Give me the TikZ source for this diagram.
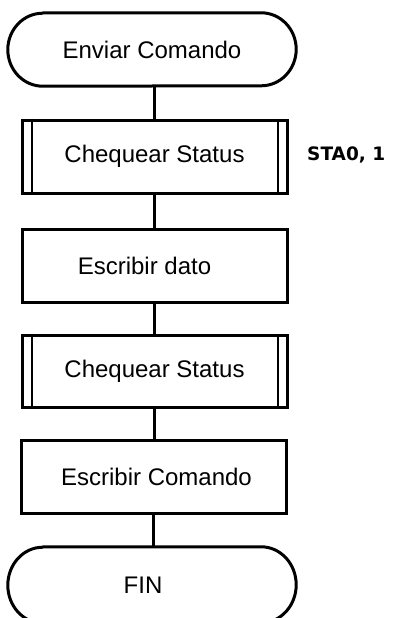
\documentclass[tikz,border=0pt]{standalone}
\usepackage{fontspec}
\setmainfont{Liberation Sans}
\newfontfamily\labelfont{DejaVu Sans}
\begin{document}
\begin{tikzpicture}[x=1pt,y=1pt,
  every node/.style={inner sep=0pt, font=\fontsize{24}{28}\selectfont},
  procbox/.style={draw, line width=3pt, minimum width=265pt, minimum height=73pt},
  termbox/.style={minimum width=288pt, minimum height=73pt},
  termline/.style={line width=3pt, line join=round},
  inner/.style={line width=2pt},
  conn/.style={line width=2.8pt}]
\useasboundingbox[fill=white] (0,0) rectangle (394,-618);

\node[termbox] (t1) at (152,-49.5) {Enviar Comando};
\node[procbox] (s1) at (154.5,-156.5) {Chequear Status};
\node[procbox] (b2) at (154.5,-265.5) {\hspace*{-20pt}Escribir dato};
\node[procbox, minimum height=72pt] (s3) at (154.5,-371) {Chequear Status};
\node[procbox] (b4) at (153.5,-476.5) {\hspace*{6pt}Escribir Comando};
\node[termbox, minimum height=76pt] (t2) at (152,-585) {\raisebox{-4pt}{\hspace*{-18pt}FIN}};
\node[anchor=west, font=\labelfont\bfseries\fontsize{18.5}{20}\selectfont] (lab) at (307,-155) {STA0, 1};

% terminals
\draw[termline] ([xshift=35pt]t1.north west) -- ([xshift=-35pt]t1.north east)
  arc[start angle=90, end angle=-90, x radius=35pt, y radius=36.5pt]
  -- ([xshift=35pt]t1.south west)
  arc[start angle=270, end angle=90, x radius=35pt, y radius=36.5pt] -- cycle;
\draw[termline] ([xshift=35pt]t2.north west) -- ([xshift=-35pt]t2.north east)
  arc[start angle=90, end angle=-90, x radius=35pt, y radius=38pt]
  -- ([xshift=35pt]t2.south west)
  arc[start angle=270, end angle=90, x radius=35pt, y radius=38pt] -- cycle;

% subprocess inner lines
\foreach \n in {s1,s3}{
  \draw[inner] ([xshift=11pt]\n.north west) -- ([xshift=11pt]\n.south west);
  \draw[inner] ([xshift=-11pt]\n.north east) -- ([xshift=-11pt]\n.south east);
}

% connectors
\draw[conn] (s1.north) -- (s1.north |- t1.south);
\draw[conn] (s1.south) -- (b2.north);
\draw[conn] (b2.south) -- (s3.north);
\draw[conn] (s3.south) -- (s3.south |- b4.north);
\draw[conn] (b4.south) -- (b4.south |- t2.north);
\end{tikzpicture}
\end{document}
